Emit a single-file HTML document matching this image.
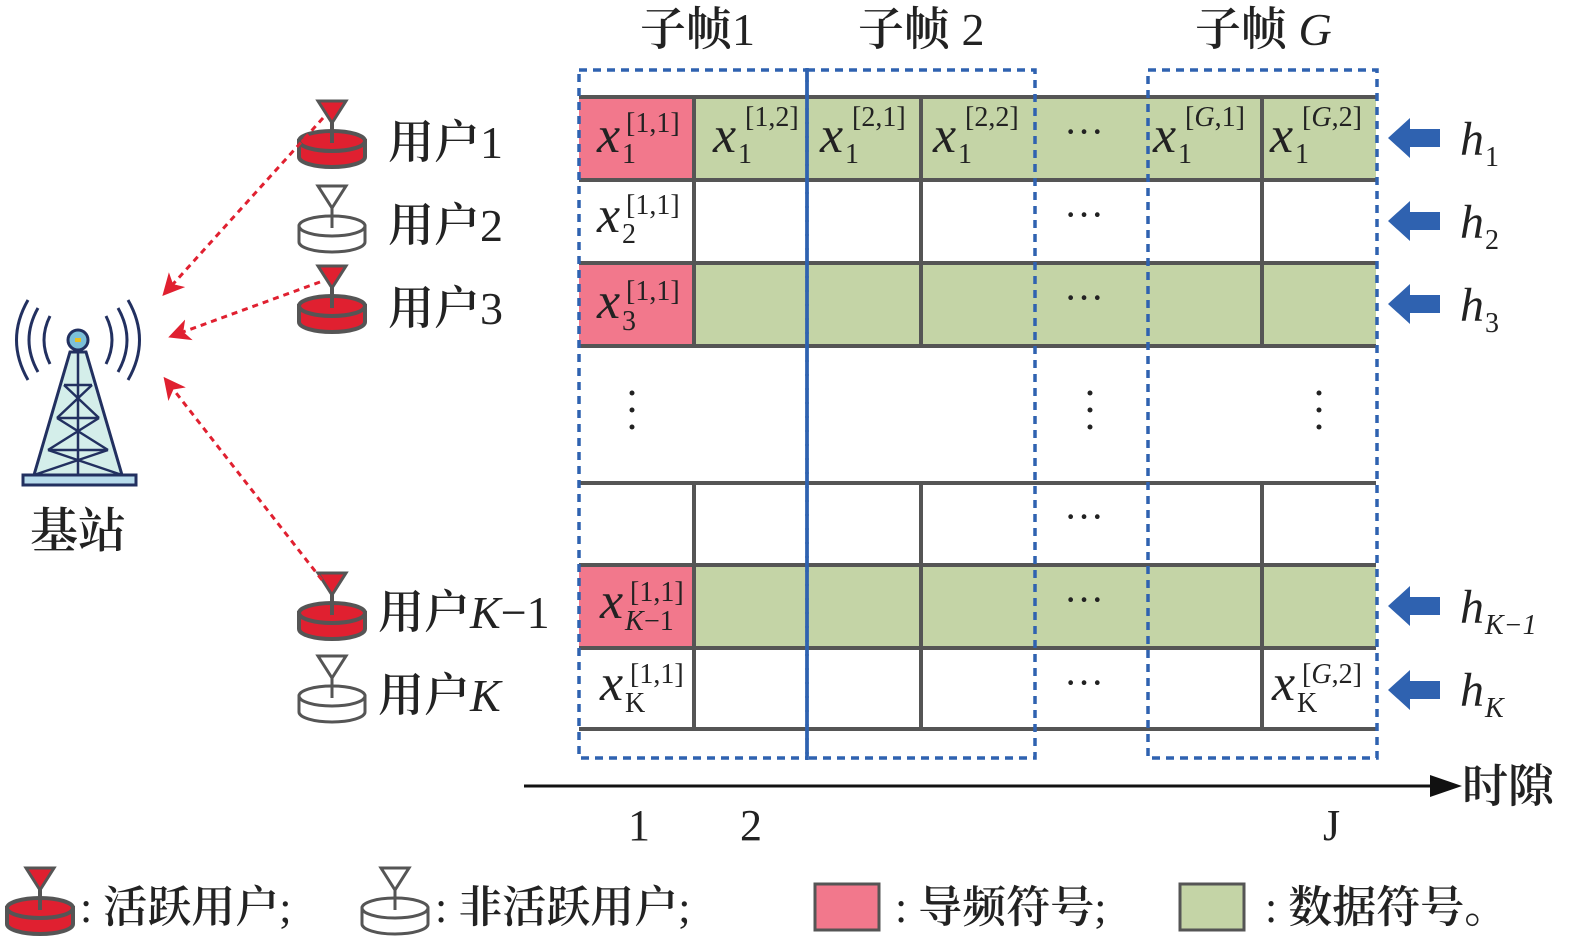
<!DOCTYPE html>
<html><head><meta charset="utf-8"><style>
html,body{margin:0;padding:0;background:#fff;}
svg{display:block;}
.cn{font-family:"Liberation Serif","Noto Serif CJK SC",serif;fill:#222;font-weight:600;}
.it{font-family:"Liberation Serif",serif;font-style:italic;fill:#222;font-weight:normal;}
.rm{font-family:"Liberation Serif",serif;fill:#222;font-weight:normal;}
</style></head><body>
<svg width="1575" height="941" viewBox="0 0 1575 941" xmlns="http://www.w3.org/2000/svg">
<defs>
<g id="ua">
<path d="M-33,40 L-33,56 A33,10 0 0 0 33,56 L33,40 Z" fill="#e02030" stroke="#555" stroke-width="4"/>
<ellipse cx="0" cy="40" rx="33" ry="10" fill="#e02030" stroke="#555" stroke-width="4"/>
<line x1="0" y1="18" x2="0" y2="42" stroke="#555" stroke-width="4"/>
<path d="M-14,0 L14,0 L0,22 Z" fill="#e02030" stroke="#555" stroke-width="3"/>
</g>
<g id="ui">
<path d="M-33,40 L-33,56 A33,10 0 0 0 33,56 L33,40 Z" fill="#fff" stroke="#555" stroke-width="3"/>
<ellipse cx="0" cy="40" rx="33" ry="10" fill="#fff" stroke="#555" stroke-width="3"/>
<line x1="0" y1="18" x2="0" y2="42" stroke="#555" stroke-width="3"/>
<path d="M-14,0 L14,0 L0,22 Z" fill="#fff" stroke="#555" stroke-width="3"/>
</g>
<marker id="ar" markerWidth="22" markerHeight="22" refX="18" refY="11" orient="auto" markerUnits="userSpaceOnUse" viewBox="0 0 22 22">
<path d="M0,0 L22,11 L0,22 L6,11 Z" fill="#e02030"/></marker>
<g id="harr"><path d="M0,0 L22,-20 L22,-9 L52,-9 L52,9 L22,9 L22,20 Z" fill="#2f62b0"/></g>
</defs>

<rect x="579" y="97" width="115" height="83" fill="#f2788c"/>
<rect x="694" y="97" width="682" height="83" fill="#c4d4a6"/>
<rect x="579" y="263" width="115" height="83" fill="#f2788c"/>
<rect x="694" y="263" width="682" height="83" fill="#c4d4a6"/>
<rect x="579" y="565" width="115" height="83" fill="#f2788c"/>
<rect x="694" y="565" width="682" height="83" fill="#c4d4a6"/>

<g stroke="#555" stroke-width="4" fill="none">
<line x1="579" y1="97" x2="1376" y2="97"/>
<line x1="579" y1="180" x2="1376" y2="180"/>
<line x1="579" y1="263" x2="1376" y2="263"/>
<line x1="579" y1="346" x2="1376" y2="346"/>
<line x1="579" y1="483" x2="1376" y2="483"/>
<line x1="579" y1="565" x2="1376" y2="565"/>
<line x1="579" y1="648" x2="1376" y2="648"/>
<line x1="579" y1="729" x2="1376" y2="729"/>
<path d="M694,97V346 M921,97V346 M1262,97V346 M694,483V729 M921,483V729 M1262,483V729"/>
</g>
<g stroke="#2f62b0" stroke-width="3.5" fill="none" stroke-dasharray="8,6">
<rect x="579" y="70" width="228" height="688"/>
<rect x="807" y="70" width="228" height="688"/>
<rect x="1148" y="70" width="229" height="688"/>
</g>
<line x1="807" y1="68" x2="807" y2="760" stroke="#2f62b0" stroke-width="3.5"/>

<text x="640" y="45" class="cn" font-size="46">子帧<tspan class="rm">1</tspan></text>
<text x="858" y="45" class="cn" font-size="46">子帧 <tspan class="rm">2</tspan></text>
<text x="1195" y="45" class="cn" font-size="46">子帧 <tspan class="it">G</tspan></text>

<g font-size="52">
<text x="597" y="152" class="it">x</text><text x="622" y="163" class="rm" font-size="28">1</text><text x="626" y="132" class="rm" font-size="28">[1,1]</text>
<text x="713" y="152" class="it">x</text><text x="738" y="163" class="rm" font-size="28">1</text><text x="745" y="126" class="rm" font-size="28">[1,2]</text>
<text x="820" y="152" class="it">x</text><text x="845" y="163" class="rm" font-size="28">1</text><text x="852" y="126" class="rm" font-size="28">[2,1]</text>
<text x="933" y="152" class="it">x</text><text x="958" y="163" class="rm" font-size="28">1</text><text x="965" y="126" class="rm" font-size="28">[2,2]</text>
<text x="1153" y="152" class="it">x</text><text x="1178" y="163" class="rm" font-size="28">1</text><text x="1185" y="126" class="rm" font-size="28">[<tspan class="it">G</tspan>,1]</text>
<text x="1270" y="152" class="it">x</text><text x="1295" y="163" class="rm" font-size="28">1</text><text x="1302" y="126" class="rm" font-size="28">[<tspan class="it">G</tspan>,2]</text>
<text x="597" y="232" class="it">x</text><text x="622" y="243" class="rm" font-size="28">2</text><text x="626" y="214" class="rm" font-size="28">[1,1]</text>
<text x="597" y="318" class="it">x</text><text x="622" y="330" class="rm" font-size="28">3</text><text x="626" y="300" class="rm" font-size="28">[1,1]</text>
<text x="600" y="618" class="it">x</text><text x="625" y="630" class="it" font-size="28">K</text><text x="644" y="630" class="rm" font-size="28">−1</text><text x="630" y="601" class="rm" font-size="28">[1,1]</text>
<text x="600" y="700" class="it">x</text><text x="625" y="712" class="rm" font-size="28">K</text><text x="630" y="683" class="rm" font-size="28">[1,1]</text>
<text x="1272" y="700" class="it">x</text><text x="1297" y="712" class="rm" font-size="28">K</text><text x="1302" y="683" class="rm" font-size="28">[<tspan class="it">G</tspan>,2]</text>
</g>
<g class="rm" font-size="40">
<text x="1064" y="145">···</text><text x="1064" y="228">···</text><text x="1064" y="311">···</text>
<text x="1064" y="530">···</text><text x="1064" y="613">···</text><text x="1064" y="696">···</text>
</g>
<g fill="#222">
<circle cx="632" cy="393" r="2.5"/><circle cx="632" cy="410" r="2.5"/><circle cx="632" cy="427" r="2.5"/>
<circle cx="1090" cy="393" r="2.5"/><circle cx="1090" cy="410" r="2.5"/><circle cx="1090" cy="427" r="2.5"/>
<circle cx="1319" cy="393" r="2.5"/><circle cx="1319" cy="410" r="2.5"/><circle cx="1319" cy="427" r="2.5"/>
</g>

<use href="#harr" x="1388" y="138"/>
<use href="#harr" x="1388" y="221"/>
<use href="#harr" x="1388" y="304"/>
<use href="#harr" x="1388" y="606"/>
<use href="#harr" x="1388" y="690"/>
<g font-size="48">
<text x="1460" y="155" class="it">h</text><text x="1485" y="166" class="rm" font-size="28">1</text>
<text x="1460" y="238" class="it">h</text><text x="1485" y="249" class="rm" font-size="28">2</text>
<text x="1460" y="321" class="it">h</text><text x="1485" y="332" class="rm" font-size="28">3</text>
<text x="1460" y="623" class="it">h</text><text x="1485" y="634" class="it" font-size="28">K<tspan class="rm">−1</tspan></text>
<text x="1460" y="706" class="it">h</text><text x="1485" y="717" class="it" font-size="28">K</text>
</g>

<line x1="524" y1="786" x2="1440" y2="786" stroke="#111" stroke-width="3"/>
<path d="M1462,786 L1430,775 L1430,797 Z" fill="#111"/>
<text x="1462" y="802" class="cn" font-size="46">时隙</text>
<text x="628" y="840" class="rm" font-size="44">1</text>
<text x="740" y="840" class="rm" font-size="44">2</text>
<text x="1323" y="840" class="rm" font-size="44">J</text>

<use href="#ua" x="332" y="101"/>
<use href="#ui" x="332" y="186"/>
<use href="#ua" x="332" y="266"/>
<use href="#ua" x="332" y="573"/>
<use href="#ui" x="332" y="656"/>
<g class="cn" font-size="46">
<text x="388" y="158">用户<tspan class="rm">1</tspan></text>
<text x="388" y="241">用户<tspan class="rm">2</tspan></text>
<text x="388" y="324">用户<tspan class="rm">3</tspan></text>
<text x="378" y="628">用户<tspan class="it">K</tspan><tspan class="rm">−1</tspan></text>
<text x="378" y="711">用户<tspan class="it">K</tspan></text>
</g>
<g stroke="#e02030" stroke-width="3" stroke-dasharray="6,5" fill="none" marker-end="url(#ar)">
<path d="M323,118 L165,293"/>
<path d="M320,282 L172,336"/>
<path d="M322,580 L166,380"/>
</g>

<g stroke="#223060" stroke-width="3" fill="none">
<path d="M28,300 Q5,340 28,380 M38,308 Q20,340 38,372 M50,316 Q38,340 50,364"/>
<path d="M128,300 Q151,340 128,380 M118,308 Q136,340 118,372 M106,316 Q118,340 106,364"/>
</g>
<path d="M70,352 L86,352 L122,475 L34,475 Z" fill="#d4eeea" stroke="#223060" stroke-width="3"/>
<g stroke="#223060" stroke-width="2.5" fill="none">
<line x1="78" y1="352" x2="78" y2="475"/>
<path d="M64,385 L92,385 M57,418 L99,418 M48,450 L108,450"/>
<path d="M64,385 L99,418 M92,385 L57,418 M57,418 L108,450 M99,418 L48,450 M48,450 L122,475 M108,450 L34,475"/>
</g>
<circle cx="78" cy="340" r="10" fill="#7cc0d8" stroke="#223060" stroke-width="3"/>
<rect x="75" y="338" width="6" height="4" fill="#e8c020"/>
<rect x="23" y="475" width="113" height="10" fill="#b8dcec" stroke="#223060" stroke-width="3"/>
<text x="30" y="547" class="cn" font-size="48">基站</text>

<use href="#ua" x="40" y="868"/>
<text x="80" y="922" class="cn" font-size="44"><tspan class="rm">: </tspan>活跃用户<tspan class="rm">;</tspan></text>
<use href="#ui" x="395" y="868"/>
<text x="435" y="922" class="cn" font-size="44"><tspan class="rm">: </tspan>非活跃用户<tspan class="rm">;</tspan></text>
<rect x="815" y="884" width="64" height="46" fill="#f2788c" stroke="#555" stroke-width="3"/>
<text x="895" y="922" class="cn" font-size="44"><tspan class="rm">: </tspan>导频符号<tspan class="rm">;</tspan></text>
<rect x="1180" y="884" width="64" height="46" fill="#c4d4a6" stroke="#555" stroke-width="3"/>
<text x="1265" y="922" class="cn" font-size="44"><tspan class="rm">: </tspan>数据符号。</text>
</svg>
</body></html>
